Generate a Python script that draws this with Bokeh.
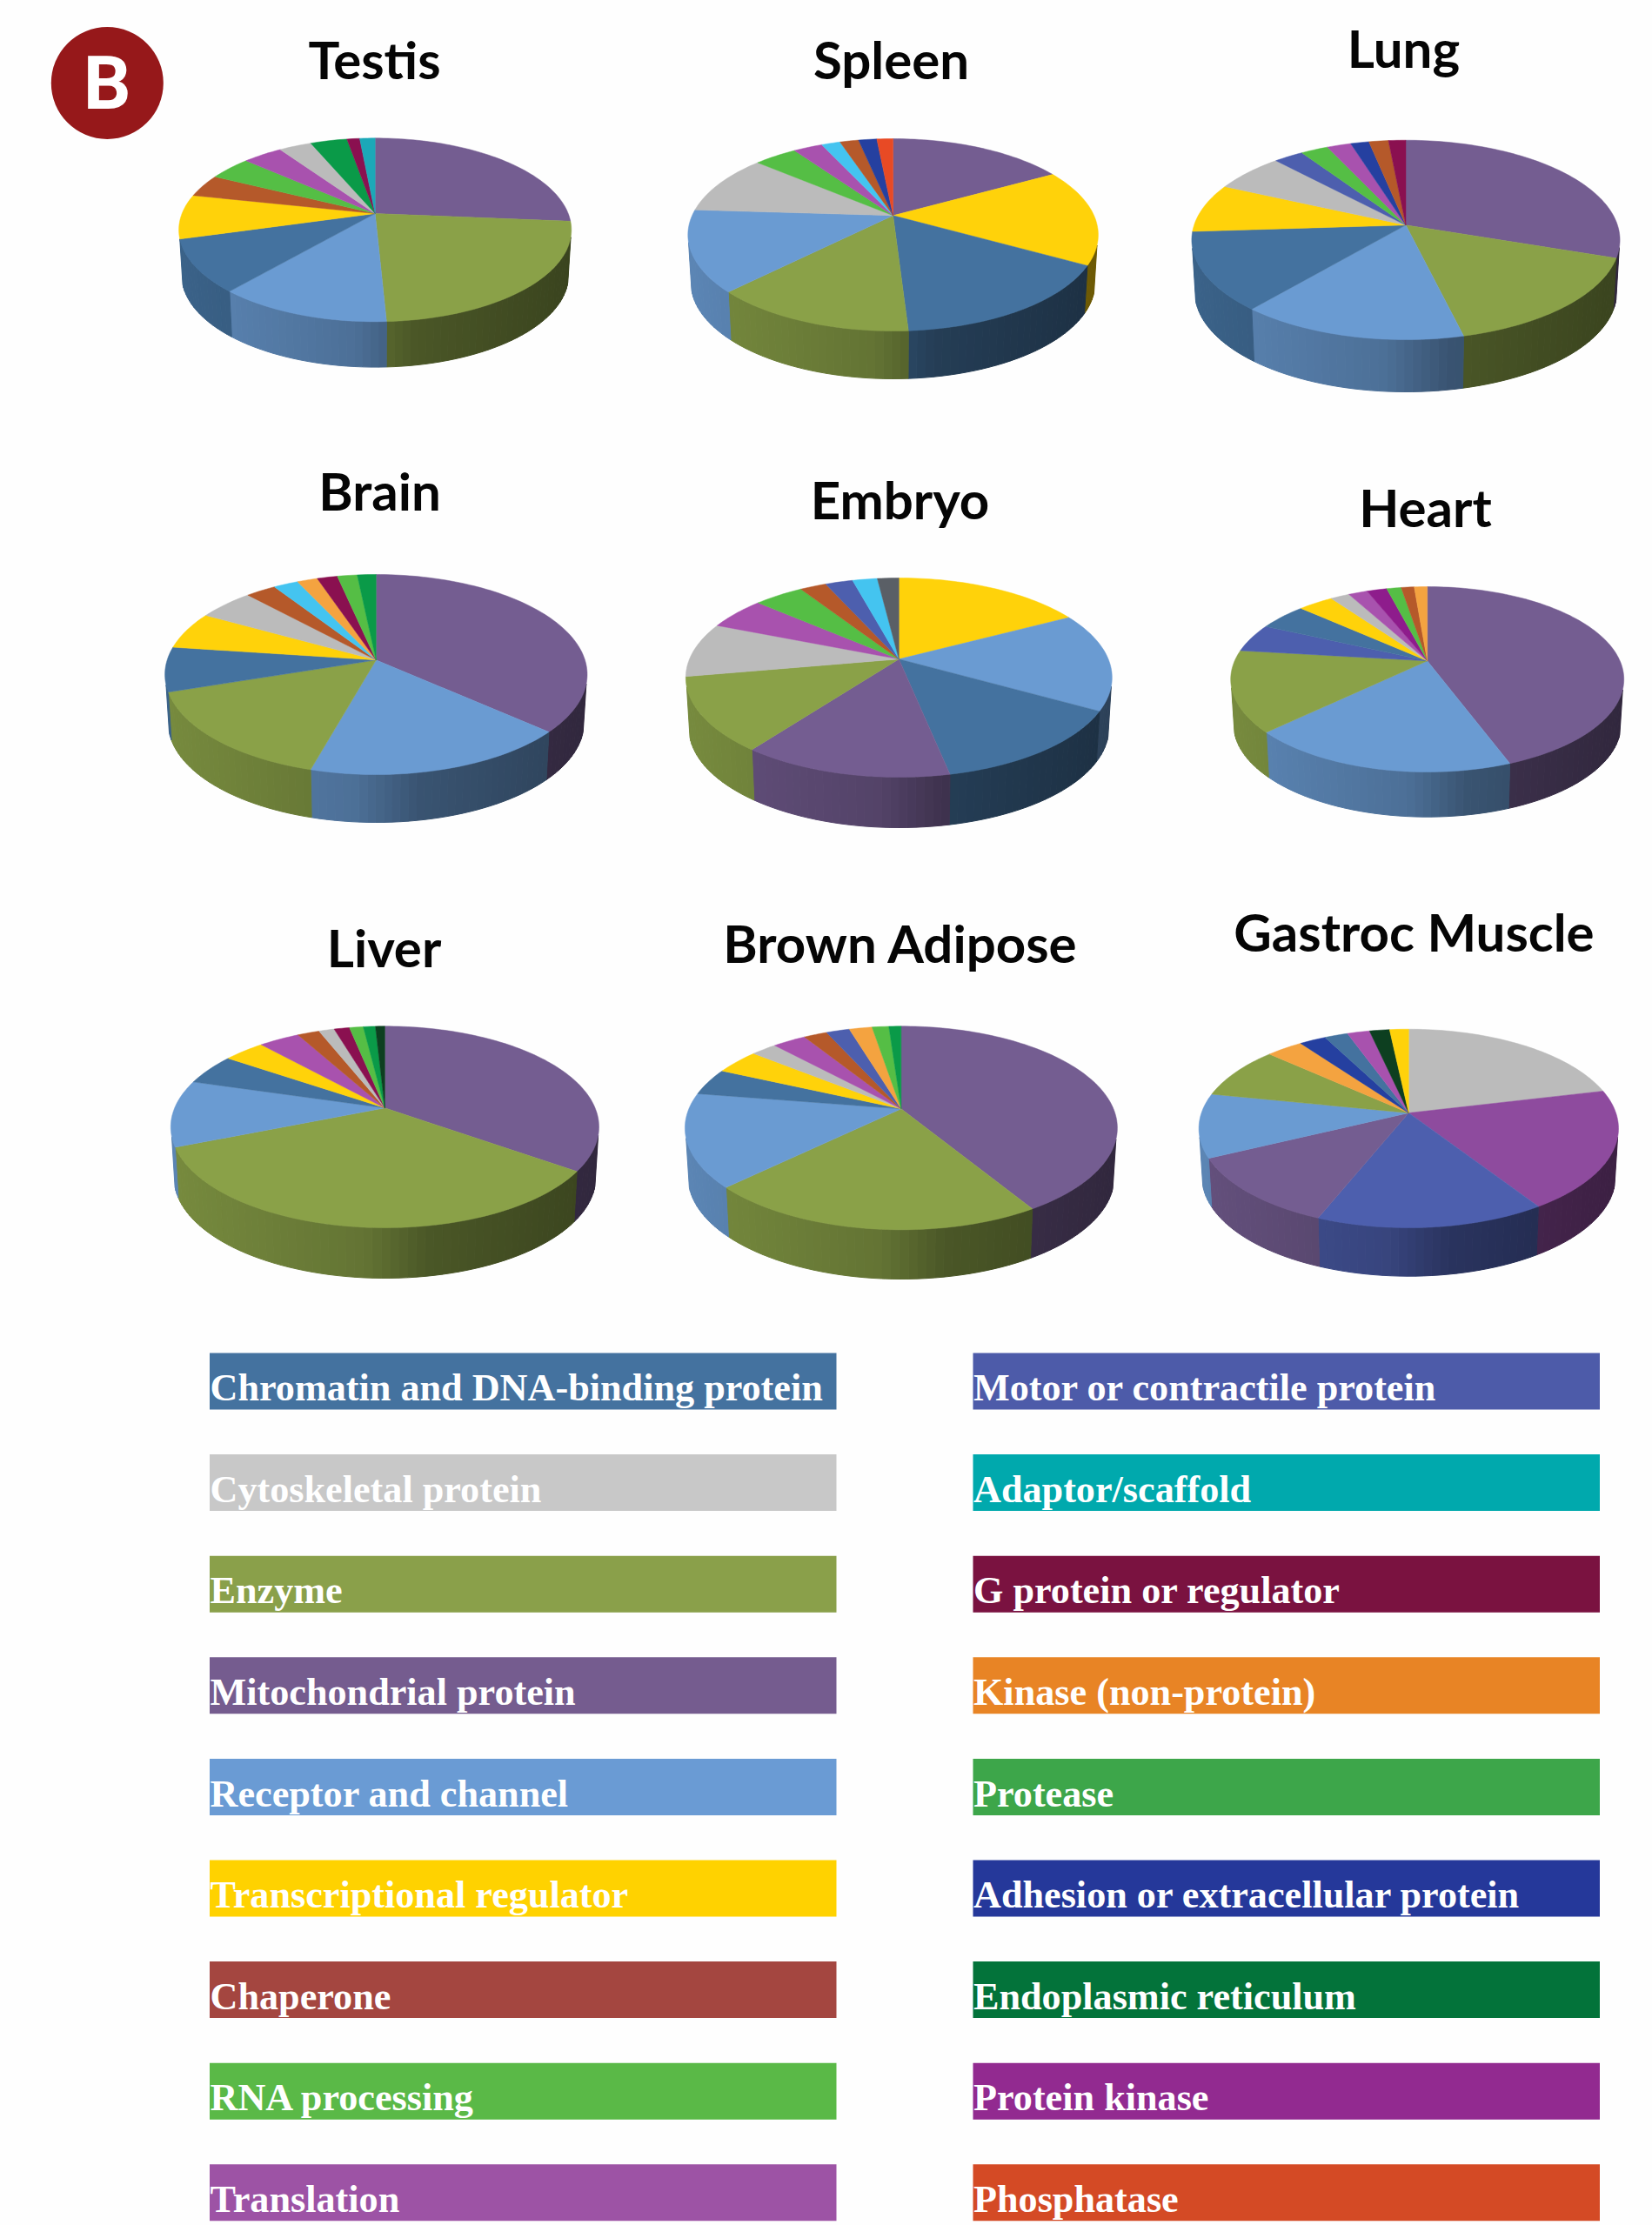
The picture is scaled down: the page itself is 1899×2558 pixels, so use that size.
import math

from bokeh.core.properties import value
from bokeh.embed import file_html
from bokeh.models import ColumnDataSource, Range1d
from bokeh.plotting import figure
from bokeh.resources import INLINE

# Protein classes
CHROMATIN = "Chromatin and DNA-binding protein"
CYTO = "Cytoskeletal protein"
ENZYME = "Enzyme"
MITO = "Mitochondrial protein"
RECEPTOR = "Receptor and channel"
TRANSCR = "Transcriptional regulator"
CHAPERONE = "Chaperone"
RNA = "RNA processing"
TRANSLATION = "Translation"
MOTOR = "Motor or contractile protein"
ADAPTOR = "Adaptor/scaffold"
GPROT = "G protein or regulator"
KINASE = "Kinase (non-protein)"
PROTEASE = "Protease"
ADHESION = "Adhesion or extracellular protein"
ER = "Endoplasmic reticulum"
PKINASE = "Protein kinase"
PHOSPHATASE = "Phosphatase"
SKY = "sky"
SLATE = "slate"
FOREST = "forest"
ORCHID = "orchid"

# Share of identified proteins (%), clockwise from twelve o'clock
testis_classes = [MITO, ENZYME, RECEPTOR, CHROMATIN, TRANSCR, CHAPERONE, RNA, TRANSLATION, CYTO, ER, GPROT, ADAPTOR]
testis_shares = [26.4, 22.9, 12.1, 9.3, 7.8, 4.0, 4.2, 3.9, 3.2, 3.6, 1.25, 1.5]

spleen_classes = [MITO, TRANSCR, CHROMATIN, ENZYME, RECEPTOR, CYTO, RNA, TRANSLATION, SKY, CHAPERONE, ADHESION, PHOSPHATASE]
spleen_shares = [16.9, 16.3, 15.9, 13.4, 13.6, 10.25, 4.1, 2.8, 1.8, 1.8, 1.75, 1.55]

lung_classes = [MITO, ENZYME, RECEPTOR, CHROMATIN, TRANSCR, CYTO, MOTOR, RNA, TRANSLATION, ADHESION, CHAPERONE, GPROT]
lung_shares = [30.2, 16.0, 14.9, 12.8, 7.9, 6.2, 2.6, 2.4, 2.1, 1.6, 1.7, 1.5]

brain_classes = [MITO, RECEPTOR, ENZYME, CHROMATIN, TRANSCR, CYTO, CHAPERONE, SKY, KINASE, GPROT, RNA, ER]
brain_shares = [36.6, 17.8, 15.6, 7.2, 6.0, 5.0, 2.7, 2.2, 1.8, 1.8, 1.75, 1.65]

embryo_classes = [TRANSCR, RECEPTOR, CHROMATIN, MITO, ENZYME, CYTO, TRANSLATION, RNA, CHAPERONE, MOTOR, SKY, SLATE]
embryo_shares = [17.2, 16.0, 13.6, 13.4, 12.0, 8.9, 5.3, 4.5, 2.4, 2.5, 2.25, 1.95]

heart_classes = [MITO, RECEPTOR, ENZYME, MOTOR, CHROMATIN, TRANSCR, CYTO, TRANSLATION, PKINASE, RNA, CHAPERONE, KINASE]
heart_shares = [44.4, 18.5, 14.1, 5.0, 4.8, 3.5, 1.9, 1.9, 2.0, 1.45, 1.3, 1.3]

liver_classes = [MITO, ENZYME, RECEPTOR, CHROMATIN, TRANSCR, TRANSLATION, CHAPERONE, CYTO, GPROT, RNA, ER, FOREST]
liver_shares = [34.9, 34.0, 10.7, 5.0, 3.75, 3.7, 2.0, 1.4, 1.4, 1.25, 1.1, 0.85]

adipose_classes = [MITO, ENZYME, RECEPTOR, CHROMATIN, TRANSCR, CYTO, TRANSLATION, CHAPERONE, MOTOR, KINASE, RNA, ER]
adipose_shares = [41.3, 21.4, 14.8, 4.3, 4.0, 2.3, 3.0, 2.1, 2.1, 2.05, 1.5, 1.1]

gastroc_classes = [CYTO, ORCHID, MOTOR, MITO, RECEPTOR, ENZYME, KINASE, ADHESION, CHROMATIN, TRANSLATION, FOREST, TRANSCR]
gastroc_shares = [21.25, 19.6, 15.25, 11.7, 10.4, 8.5, 3.3, 2.4, 2.1, 2.0, 1.8, 1.7]

legend_left = [CHROMATIN, CYTO, ENZYME, MITO, RECEPTOR, TRANSCR, CHAPERONE, RNA, TRANSLATION]
legend_right = [MOTOR, ADAPTOR, GPROT, KINASE, PROTEASE, ADHESION, ER, PKINASE, PHOSPHATASE]

LEGEND_COLOR = {
    CHROMATIN: "#44729F", CYTO: "#C8C8C8", ENZYME: "#8AA04A", MITO: "#755C8F",
    RECEPTOR: "#6A9BD4", TRANSCR: "#FFD200", CHAPERONE: "#A44640", RNA: "#5AB947",
    TRANSLATION: "#9D53A5", MOTOR: "#4D5BA9", ADAPTOR: "#00A9AD", GPROT: "#7A1240",
    KINASE: "#E88425", PROTEASE: "#3DA64A", ADHESION: "#25389A", ER: "#03733A",
    PKINASE: "#922A90", PHOSPHATASE: "#D44A25",
}
SLICE_COLOR = {
    CHROMATIN: "#44729F", CYTO: "#BBBBBB", ENZYME: "#8AA148", MITO: "#745D91",
    RECEPTOR: "#6A9BD2", TRANSCR: "#FFD20A", CHAPERONE: "#B5592A", RNA: "#55BE45",
    TRANSLATION: "#A852AE", MOTOR: "#4D5FAE", ADAPTOR: "#1CA8B8", GPROT: "#8A1050",
    KINASE: "#F4A340", ADHESION: "#2540A0", ER: "#0A9A48", PKINASE: "#8E1C8C",
    PHOSPHATASE: "#E84A25", SKY: "#44C4F0", SLATE: "#5A5F66", FOREST: "#0D3F20",
    ORCHID: "#8E4B9E",
}

# Each pie: title and its centre, top, bottom, half width and wall depth on the page
PIES = [
    ("Testis", testis_classes, testis_shares, 430.7, 245.0, 158.3, 369.3, 225.6, 52.3),
    ("Spleen", spleen_classes, spleen_shares, 1026.1, 247.3, 159.0, 380.0, 235.8, 55.0),
    ("Lung", lung_classes, lung_shares, 1615.5, 258.3, 160.7, 390.0, 246.1, 60.0),
    ("Brain", brain_classes, brain_shares, 431.8, 758.3, 660.0, 890.0, 242.7, 55.0),
    ("Embryo", embryo_classes, embryo_shares, 1032.8, 757.3, 664.0, 893.0, 245.0, 58.0),
    ("Heart", heart_classes, heart_shares, 1640.2, 759.3, 674.0, 887.0, 226.0, 51.7),
    ("Liver", liver_classes, liver_shares, 441.9, 1273.3, 1179.3, 1411.0, 246.1, 58.0),
    ("Brown Adipose", adipose_classes, adipose_shares, 1035.4, 1274.3, 1179.3, 1413.3, 248.5, 56.7),
    ("Gastroc Muscle", gastroc_classes, gastroc_shares, 1618.8, 1279.0, 1182.7, 1411.0, 241.2, 55.7),
]
TITLE_POS = {
    "Testis": (430, 90), "Spleen": (1024, 90), "Lung": (1613, 77),
    "Brain": (436, 586), "Embryo": (1034, 596), "Heart": (1638, 605),
    "Liver": (441, 1111), "Brown Adipose": (1035, 1106), "Gastroc Muscle": (1625, 1093),
}

TITLE_SIZE = 60
LABEL_SIZE = 44.2
BADGE_SIZE = 86
# Text sits this fraction of its size below the requested baseline in the SVG output
BASELINE_DRIFT = 0.38

WALL_INSET = 0.985
WALL_CUTOFF = 0.09
ARC_STEP = math.radians(1.5)
WALL_STEP = math.radians(2.0)
# Wall lighting across the pie, left to right
WALL_STOPS = [(0.0, 0.86), (0.45, 0.72), (0.6, 0.54), (1.0, 0.42)]


def wall_factor(t):
    t = min(1.0, max(0.0, t))
    for (a, fa), (b, fb) in zip(WALL_STOPS, WALL_STOPS[1:]):
        if t <= b:
            return fa + (fb - fa) * (t - a) / (b - a)
    return WALL_STOPS[-1][1]


def shade(color, f):
    r, g, b = (int(color[i:i + 2], 16) for i in (1, 3, 5))
    return f"#{round(r * f):02x}{round(g * f):02x}{round(b * f):02x}"


def make_projection(cx, cy, top, bottom, half_width):
    # Perspective view of a unit disc: the centre stays at (cx, cy) and the rim is an ellipse
    far = cy - top
    near = bottom - cy
    k = (near - far) / (near + far)
    q = far * (1 + k)
    r = half_width * math.sqrt(1 - k * k)

    def project(theta):
        u, v = math.sin(theta), math.cos(theta)
        w = 1 + k * v
        return cx + r * u / w, cy - q * v / w

    return project, k


p = figure(
    width=1899, height=2558, output_backend="svg", toolbar_location=None,
    x_range=Range1d(0, 1899), y_range=Range1d(2558, 0),
    x_axis_type=None, y_axis_type=None, min_border=0,
)
p.grid.visible = False
p.outline_line_color = None
p.background_fill_color = "#FEFEFE"
p.border_fill_color = "#FFFFFF"

# Round panel badge
p.circle(x=[122.8], y=[95], radius=64.5, fill_color="#96181A", line_color=None)
p.text(x=[122.8], y=[128 - BASELINE_DRIFT * BADGE_SIZE], text=["B"], text_color="#FFFFFF", text_align="center",
       text_baseline="alphabetic", text_font=value("Roboto"),
       text_font_style="bold", text_font_size=f"{BADGE_SIZE}px")

wall = {"xs": [], "ys": [], "color": []}
face = {"xs": [], "ys": [], "color": []}

for name, classes, shares, cx, cy, top, bottom, half_width, depth in PIES:
    project, k = make_projection(cx, cy, top, bottom, half_width)
    total = sum(shares)
    start = 0.0
    for cls, share in zip(classes, shares):
        end = start + 2 * math.pi * share / total
        color = SLICE_COLOR[cls]

        n = max(2, math.ceil((end - start) / ARC_STEP))
        rim = [project(start + (end - start) * i / n) for i in range(n + 1)]
        face["xs"].append([cx] + [pt[0] for pt in rim])
        face["ys"].append([cy] + [pt[1] for pt in rim])
        face["color"].append(color)

        # Only the part of the wall turned towards the viewer is drawn
        m = max(1, math.ceil((end - start) / WALL_STEP))
        for i in range(m):
            a = start + (end - start) * i / m
            b = start + (end - start) * (i + 1) / m
            if math.cos(0.5 * (a + b)) > -k - WALL_CUTOFF:
                continue
            (xa, ya), (xb, yb) = project(a), project(b)
            xa2 = cx + WALL_INSET * (xa - cx)
            xb2 = cx + WALL_INSET * (xb - cx)
            t = (0.5 * (xa + xb) - (cx - half_width)) / (2 * half_width)
            wall["xs"].append([xa, xb, xb2, xa2])
            wall["ys"].append([ya, yb, yb + depth, ya + depth])
            wall["color"].append(shade(color, wall_factor(t)))
        start = end

p.patches("xs", "ys", source=ColumnDataSource(wall), fill_color="color", line_color="color", line_width=1)
p.patches("xs", "ys", source=ColumnDataSource(face), fill_color="color", line_color="color", line_width=0.5)

# Tissue titles
titles = [pie[0] for pie in PIES]
p.text(x=[TITLE_POS[t][0] for t in titles],
       y=[TITLE_POS[t][1] - BASELINE_DRIFT * TITLE_SIZE for t in titles], text=titles,
       text_color="#050505", text_align="center", text_baseline="alphabetic",
       text_font=value("Lato"), text_font_style="bold", text_font_size=f"{TITLE_SIZE}px")

# Colour key: two columns of labelled bars
BAR_TOP = 1555.0
BAR_PITCH = 116.6
BAR_HEIGHT = 65.0
COLUMNS = [(legend_left, 240.5, 961.0), (legend_right, 1118.0, 1838.5)]
for labels, left, right in COLUMNS:
    tops = [BAR_TOP + BAR_PITCH * i for i in range(len(labels))]
    p.quad(left=left, right=right, top=tops, bottom=[t + BAR_HEIGHT for t in tops],
           fill_color=[LEGEND_COLOR[c] for c in labels], line_color=None)
    p.text(x=[left + 0.5] * len(labels), y=[t + 57 - BASELINE_DRIFT * LABEL_SIZE for t in tops], text=labels,
           text_color="#FFFFFF", text_align="left", text_baseline="alphabetic",
           text_font=value("Liberation Serif"), text_font_style="bold", text_font_size=f"{LABEL_SIZE}px")

open("out.html", "w").write(file_html(p, INLINE))
